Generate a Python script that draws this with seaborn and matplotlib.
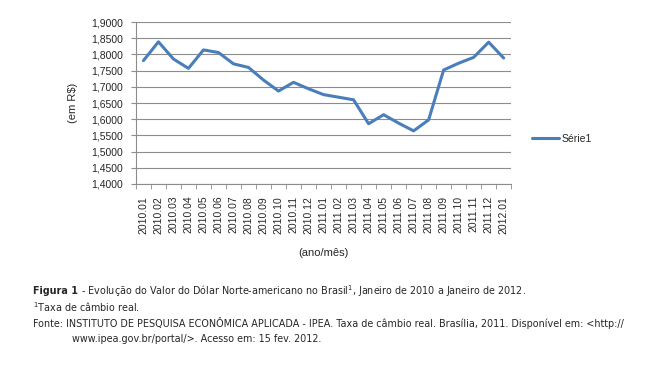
import pandas as pd
import seaborn as sns
import matplotlib
matplotlib.use("Agg")
import matplotlib.pyplot as plt
from matplotlib.ticker import FuncFormatter, MultipleLocator, FixedLocator

# Dados
meses = ['2010.01', '2010.02', '2010.03', '2010.04', '2010.05', '2010.06',
         '2010.07', '2010.08', '2010.09', '2010.10', '2010.11', '2010.12',
         '2011.01', '2011.02', '2011.03', '2011.04', '2011.05', '2011.06',
         '2011.07', '2011.08', '2011.09', '2011.10', '2011.11', '2011.12',
         '2012.01']
valores = [1.781, 1.839, 1.786, 1.757, 1.814, 1.806,
           1.771, 1.760, 1.721, 1.687, 1.714, 1.694,
           1.676, 1.668, 1.660, 1.586, 1.614, 1.588,
           1.564, 1.598, 1.752, 1.773, 1.791, 1.838,
           1.789]

df = pd.DataFrame({'mes': meses, 'valor': valores})

sns.set_style("white")
plt.rcParams['font.family'] = ['Liberation Sans', 'DejaVu Sans']

fig = plt.figure(figsize=(6.63, 3.68), dpi=100)
ax = fig.add_axes([0.205, 0.5, 0.566, 0.44])

sns.lineplot(ax=ax, data=df, x='mes', y='valor', color='#4A7EBB',
             linewidth=2.2, label='Série1', sort=False)

ax.set_xlim(-0.5, len(meses) - 0.5)
ax.set_ylim(1.4, 1.9)
ax.yaxis.set_major_locator(MultipleLocator(0.05))
ax.yaxis.set_major_formatter(FuncFormatter(lambda v, p: f"{v:.4f}".replace('.', ',')))
ax.grid(axis='y', color='#8C8C8C', linewidth=0.8)
ax.grid(axis='x', visible=False)

for s in ['top', 'right']:
    ax.spines[s].set_visible(False)
for s in ['left', 'bottom']:
    ax.spines[s].set_color('#8C8C8C')
    ax.spines[s].set_linewidth(0.8)

ax.set_xticks(range(len(meses)))
ax.set_xticklabels(meses, rotation=90, fontsize=7.5)
ax.xaxis.set_minor_locator(FixedLocator([i - 0.5 for i in range(len(meses) + 1)]))
ax.tick_params(axis='x', which='major', length=0, pad=8.5)
ax.tick_params(axis='x', which='minor', length=3.5, color='#8C8C8C', direction='out', bottom=True)
ax.tick_params(axis='y', length=3.5, color='#8C8C8C', direction='out', left=True, labelsize=7.5, pad=6)

ax.set_xlabel('(ano/mês)', fontsize=8, labelpad=10)
ax.set_ylabel('(em R$)', fontsize=8, labelpad=9)

ax.legend(loc='center left', bbox_to_anchor=(1.03, 0.28), frameon=False, fontsize=7.5,
          handlelength=2.6, handletextpad=0.3)

# Legenda da figura
fs = 6.9
cap = dict(fontsize=fs, family='DejaVu Sans', va='center', ha='left')
t1 = fig.text(0.05, 0.208, 'Figura 1', weight='bold', **cap)
ax.annotate(' - Evolução do Valor do Dólar Norte-americano no Brasil$^1$, Janeiro de 2010 a Janeiro de 2012.',
            xy=(1, 0.5), xycoords=t1, annotation_clip=False, **cap)
fig.text(0.05, 0.165, '$^1$Taxa de câmbio real.', **cap)
fig.text(0.05, 0.122, 'Fonte: INSTITUTO DE PESQUISA ECONÔMICA APLICADA - IPEA. Taxa de câmbio real. Brasília, 2011. Disponível em: <http://', **cap)
fig.text(0.108, 0.079, 'www.ipea.gov.br/portal/>. Acesso em: 15 fev. 2012.', **cap)

fig.savefig('out.png', dpi=100)
